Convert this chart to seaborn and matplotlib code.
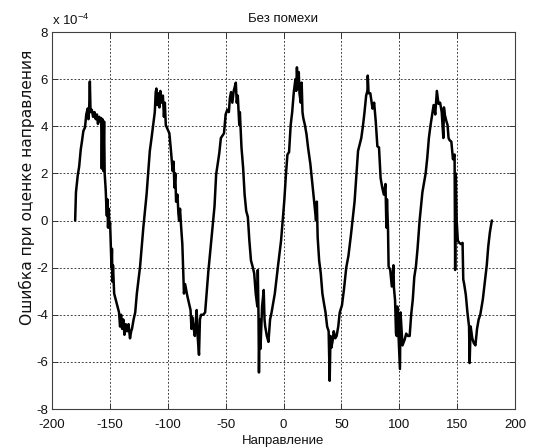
import matplotlib
matplotlib.use("Agg")
import matplotlib.pyplot as plt
import seaborn as sns
import pandas as pd

# Direction (degrees)
direction = [
    -180, -179.3, -177.8, -176.5, -175.2, -174.0, -172.9, -171.5, -170.4, -169.2,
    -168.5, -167.8, -167.3, -166.7, -165.6, -164.5, -163.3, -162.2, -161.2, -160.3,
    -159.2, -158.2, -157.5, -157.0, -156.4, -155.7, -155.0, -154.5, -153.6, -153.2,
    -152.6, -152.2, -151.6, -151.0, -150.4, -149.8, -149.2, -148.6, -148.2, -147.8,
    -147.3, -146.3, -145.0, -143.5, -142.1, -141.2, -140.3, -139.4, -138.4, -137.4,
    -136.3, -135.1, -133.9, -132.6, -131.6, -130.9, -129.5, -128.1, -126.7, -123.9,
    -121.1, -118.3, -116.9, -115.5, -114.0, -112.6, -111.2, -110.4, -109.8, -109.0,
    -108.0, -107.2, -106.4, -105.5, -104.2, -103.3, -102.5, -101.7, -98.6, -97.2,
    -95.8, -95.0, -94.2, -93.5, -92.8, -91.6, -90.8, -90.2, -89.4, -88.4,
    -87.4, -86.8, -86.0, -85.0, -83.1, -80.3, -79.5, -78.9, -77.8, -76.6,
    -75.7, -75.0, -74.2, -73.0, -72.2, -71.2, -69.4, -67.7, -65.0, -62.3,
    -59.6, -58.2, -55.5, -54.1, -51.4, -50.0, -48.6, -47.2, -46.3, -45.3,
    -44.2, -43.0, -41.2, -40.4, -39.5, -38.2, -37.7, -36.3, -34.9, -33.6,
    -32.2, -30.8, -29.5, -28.1, -26.7, -25.3, -24.0, -22.6, -22.2, -21.6,
    -21.2, -20.6, -19.9, -19.2, -18.5, -17.1, -16.4, -15.8, -14.4, -13.0,
    -11.6, -10.3, -7.5, -4.8, -2.1, -0.7, 0.7, 2.1, 3.4, 4.8,
    6.2, 7.5, 8.9, 10.3, 11.0, 11.6, 12.4, 13.2, 13.8, 14.9,
    15.7, 16.4, 17.1, 18.5, 19.9, 21.2, 23.2, 25.3, 26.7, 28.1,
    28.8, 29.5, 30.8, 32.2, 33.6, 34.9, 36.3, 37.7, 39.0, 39.9,
    40.6, 41.3, 42.3, 43.4, 44.7, 45.9, 47.3, 48.6, 50.5, 52.3,
    54.2, 56.1, 58.3, 61.4, 64.4, 67.2, 68.6, 70.0, 71.4, 72.5,
    72.8, 73.5, 75.0, 76.9, 78.3, 79.7, 81.1, 82.5, 83.9, 85.3,
    86.7, 88.1, 88.9, 89.4, 90.3, 90.8, 92.2, 93.6, 95.0, 95.4,
    96.4, 97.2, 97.8, 98.3, 100.6, 101.1, 102.8, 104.7, 106.0, 107.5,
    109.0, 110.3, 111.7, 113.0, 114.4, 115.8, 117.6, 120.0, 122.8, 124.2,
    125.6, 126.9, 128.3, 129.7, 131.1, 132.5, 133.9, 135.3, 136.7, 138.1,
    138.6, 139.4, 140.8, 141.7, 142.6, 143.6, 145.0, 146.4, 147.8, 148.3,
    148.8, 149.2, 149.6, 150.6, 151.9, 153.3, 154.7, 155.3, 156.1, 157.5,
    158.9, 160.3, 160.8, 161.7, 163.1, 164.4, 165.8, 167.2, 168.6, 170.0,
    172.2, 173.5, 175.6, 176.9, 178.3, 180.0,
]

# Direction estimation error, in units of 1e-4
error_e4 = [
    0.0, 1.2, 1.9, 2.3, 3.0, 3.4, 3.8, 3.95, 4.5, 4.75,
    4.3, 4.9, 5.9, 4.6, 4.7, 4.4, 4.6, 4.3, 4.5, 4.1,
    4.4, 4.2, 4.35, 2.2, 4.3, 2.1, 4.2, 2.0, 1.3, 0.8,
    0.2, 0.9, -0.3, 0.5, -0.3, -0.1, -1.0, -2.0, -1.2, -2.6,
    -1.9, -3.1, -3.35, -3.65, -3.9, -4.5, -4.0, -4.6, -4.2, -4.85,
    -4.4, -4.7, -4.4, -5.0, -4.7, -4.6, -4.2, -3.9, -3.1, -1.95,
    -0.3, 1.1, 2.0, 2.95, 3.5, 4.05, 4.6, 5.45, 5.6, 4.9,
    5.4, 4.8, 5.5, 5.0, 5.3, 4.4, 5.0, 4.05, 3.7, 2.95,
    2.1, 2.5, 1.4, 2.0, 0.8, 1.1, 0.3, 0.0, 0.5, -0.3,
    -1.0, -1.95, -3.1, -2.7, -3.2, -3.8, -4.6, -4.1, -4.5, -4.9,
    -4.2, -3.8, -4.9, -5.7, -4.2, -4.0, -4.0, -3.9, -2.2, -0.8,
    0.6, 1.95, 2.85, 3.5, 3.7, 4.5, 4.7, 4.6, 5.2, 5.45,
    5.0, 5.5, 5.85, 5.0, 5.3, 4.05, 4.6, 3.1, 2.25, 1.1,
    0.4, 0.15, -0.85, -1.7, -1.95, -2.25, -3.1, -3.65, -2.1, -4.0,
    -6.45, -4.2, -5.45, -4.6, -3.65, -2.95, -4.2, -4.5, -4.9, -5.15,
    -4.2, -3.9, -3.1, -1.95, -0.85, 0.0, 0.85, 1.95, 2.8, 2.9,
    4.05, 4.6, 5.45, 6.0, 5.5, 6.5, 5.6, 6.3, 5.4, 5.0,
    5.85, 4.6, 4.35, 4.05, 3.65, 3.1, 2.4, 1.4, 0.7, 0.0,
    0.8, -0.7, -1.7, -2.25, -3.1, -3.5, -3.9, -4.5, -4.7, -6.8,
    -4.9, -5.4, -5.15, -4.7, -5.0, -4.9, -4.5, -3.9, -3.6, -2.9,
    -2.0, -1.5, -0.6, 0.8, 2.95, 3.5, 4.0, 4.6, 5.3, 5.5,
    6.15, 5.4, 5.4, 4.75, 5.0, 4.2, 3.15, 3.1, 1.8, 1.4,
    1.1, 1.55, -0.3, 0.9, -0.4, -1.95, -2.1, -2.8, -1.9, -2.85,
    -3.4, -4.8, -4.9, -3.65, -6.3, -3.9, -5.3, -5.05, -4.8, -4.9,
    -4.9, -4.0, -3.35, -2.4, -1.95, -1.2, 0.0, 1.2, 2.0, 2.66,
    3.5, 4.0, 4.45, 4.9, 4.5, 5.5, 4.95, 5.0, 4.6, 3.5,
    4.8, 4.48, 4.2, 4.06, 3.5, 3.4, 3.35, 2.6, 2.8, -2.1,
    2.0, 1.1, 0.0, -0.85, -0.95, -1.0, -0.95, -2.5, -2.7, -3.15,
    -3.9, -4.5, -6.05, -4.5, -5.0, -5.2, -5.3, -4.6, -4.2, -4.0,
    -3.35, -2.8, -1.9, -1.1, -0.5, 0.0,
]

x_ticks = [-200, -150, -100, -50, 0, 50, 100, 150, 200]
y_ticks = [-8, -6, -4, -2, 0, 2, 4, 6, 8]

title_text = "Без помехи"
x_label = "Направление"
y_label = "Ошибка при оценке направления"

sns.set_theme(style="white")
plt.rcParams["font.family"] = ["Liberation Sans", "DejaVu Sans"]
plt.rcParams["axes.unicode_minus"] = False

df = pd.DataFrame({"direction": direction, "error": error_e4})

fig = plt.figure(figsize=(5.4, 4.48), dpi=100)
ax = fig.add_axes([52 / 540, 1 - 409 / 448, 463 / 540, 377 / 448])

sns.lineplot(data=df, x="direction", y="error", ax=ax, color="black",
             linewidth=1.8, sort=False, estimator=None)

ax.set_xlim(-200, 200)
ax.set_ylim(-8, 8)
ax.set_xticks(x_ticks)
ax.set_yticks(y_ticks)
ax.set_xticklabels([str(t) for t in x_ticks], fontsize=9.5)
ax.set_yticklabels([str(t) for t in y_ticks], fontsize=9.5)
ax.grid(True, color="#222222", linestyle=(0, (2.2, 2.2)), linewidth=0.6)
ax.tick_params(axis="both", direction="in", length=4, width=0.7, color="#333333",
               top=True, right=True, bottom=True, left=True,
               labelcolor="#111111")
ax.tick_params(axis="x", pad=7)
ax.tick_params(axis="y", pad=3)
for s in ax.spines.values():
    s.set_color("#404040")
    s.set_linewidth(0.8)

ax.set_xlabel(x_label, fontsize=9.5, labelpad=3, color="#111111")
ax.set_ylabel("")
ax.set_title(title_text, fontsize=9.5, pad=7, color="#111111")

# y label (placed to match the reference's off-centre position)
fig.text(27 / 540, 1 - 187 / 448, y_label, rotation=90, fontsize=11.2,
         family=["DejaVu Sans"], ha="center", va="center", color="#111111")

fig.text(52 / 540, 1 - 25 / 448, r"x 10$^{\mathregular{-4}}$", fontsize=9.5,
         ha="left", va="baseline", color="#111111")

fig.savefig("out.png", dpi=100)
